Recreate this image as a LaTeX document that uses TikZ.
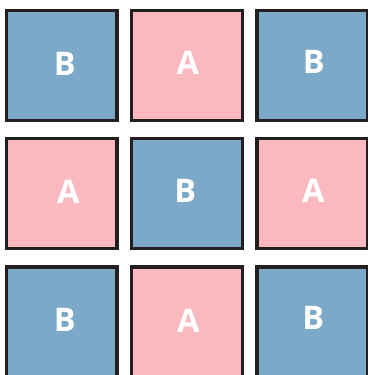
\documentclass[tikz,border=0pt]{standalone}
\usepackage{fontspec}
\setmainfont{Open Sans}
\definecolor{cblue}{HTML}{7CA9C8}
\definecolor{cpink}{HTML}{F9B9BE}
\definecolor{cedge}{HTML}{231F20}
\begin{document}
\begin{tikzpicture}[x=1pt,y=-1pt,
  sq/.style={draw=cedge,line width=3.3pt,minimum width=110.7pt,minimum height=110pt,inner sep=0pt,outer sep=0pt},
  bsq/.style={sq,fill=cblue},
  psq/.style={sq,fill=cpink},
  lbl/.style={text=white,inner sep=0pt,font=\fontsize{32.5}{39}\selectfont\bfseries}]
\useasboundingbox (0,0) rectangle (367,375);
\fill[white] (0,0) rectangle (367,375);
% squares
\node[bsq] (s11) at (61.7,65.35) {};
\node[psq] (s12) at (187,65.35) {};
\node[bsq] (s13) at (312.3,65.35) {};
\node[psq] (s21) at (61.7,193.35) {};
\node[bsq] (s22) at (187,193.35) {};
\node[psq] (s23) at (312.3,193.35) {};
\node[bsq] (s31) at (61.7,322) {};
\node[psq] (s32) at (187,322) {};
\node[bsq] (s33) at (312.3,322) {};
% letters
\node[lbl] (t11) at (64.7,64) {B};
\node[lbl] (t12) at (187.8,63) {A};
\node[lbl] (t13) at (313.7,62.3) {B};
\node[lbl] (t21) at (68.3,192.3) {A};
\node[lbl] (t22) at (185.3,190.7) {B};
\node[lbl] (t23) at (313.3,190.7) {A};
\node[lbl] (t31) at (64.7,320) {B};
\node[lbl] (t32) at (188.3,320.7) {A};
\node[lbl] (t33) at (313.3,318.3) {B};
\end{tikzpicture}
\end{document}
